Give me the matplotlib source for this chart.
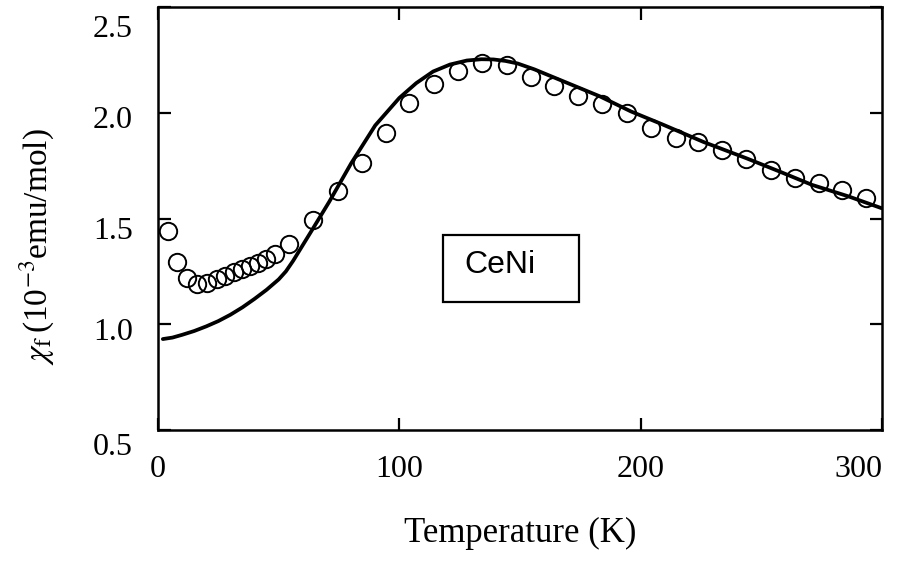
import numpy as np
import matplotlib
matplotlib.use('Agg')
import matplotlib.pyplot as plt
import matplotlib.transforms as mtransforms
from matplotlib.patches import Rectangle

# measured susceptibility (open circles)
temp_data = [4.3, 8.0, 11.9, 16.3, 20.2, 24.3, 27.8, 31.3, 34.7, 38.2, 41.6, 44.8, 48.5, 54.1,
             64.4, 74.4, 84.6, 94.6, 104.0, 114.2, 124.2, 134.4, 144.7, 154.6, 164.0, 174.0,
             184.0, 194.4, 204.4, 214.5, 223.9, 233.9, 243.8, 253.8, 263.9, 274.0, 283.6, 293.5]
chi_data = [1.443, 1.293, 1.219, 1.190, 1.193, 1.214, 1.230, 1.245, 1.261, 1.277, 1.291, 1.309,
            1.332, 1.380, 1.495, 1.629, 1.762, 1.906, 2.048, 2.138, 2.197, 2.236, 2.228, 2.171,
            2.127, 2.077, 2.040, 2.000, 1.930, 1.882, 1.863, 1.825, 1.782, 1.730, 1.693, 1.667,
            1.635, 1.596]

# calculated curve (solid line)
temp_fit = [2, 6, 10, 15, 20, 25, 30, 35, 40, 45, 50, 53, 56, 63, 71, 80, 90, 100, 107, 114,
            121, 128, 134, 139, 144, 149, 156, 163, 173, 183, 196, 209, 226, 244, 258, 271,
            286, 300]
chi_fit = [0.93, 0.937, 0.95, 0.968, 0.99, 1.015, 1.045, 1.08, 1.12, 1.163, 1.212, 1.25, 1.30,
           1.43, 1.58, 1.76, 1.94, 2.07, 2.14, 2.195, 2.228, 2.247, 2.253, 2.252, 2.245, 2.233,
           2.205, 2.172, 2.125, 2.078, 2.006, 1.945, 1.862, 1.784, 1.72, 1.659, 1.605, 1.548]

x_ticks = [0, 100, 200, 300]
y_ticks = [0.5, 1.0, 1.5, 2.0, 2.5]

plt.rcParams['font.family'] = ['Liberation Serif', 'DejaVu Serif']
plt.rcParams['mathtext.fontset'] = 'stix'

fig = plt.figure(figsize=(8.98, 5.61), dpi=100)
ax = fig.add_axes([158/898, 131/561, 724/898, 423/561])

ax.plot(temp_fit, chi_fit, color='black', lw=2.7, zorder=2, solid_capstyle='round')
ax.plot(temp_data, chi_data, 'o', ms=12.5, mfc='none', mec='black', mew=1.4, zorder=3)

ax.set_xlim(0, 300)
ax.set_ylim(0.5, 2.5)
ax.set_xticks(x_ticks)
ax.set_yticks(y_ticks)
ax.set_yticklabels(['%.1f' % v for v in y_ticks])
ax.tick_params(direction='in', length=9, width=1.6, top=True, right=True, labelsize=23)
ax.tick_params(axis='x', pad=18)
ax.tick_params(axis='y', pad=18)
for s in ax.spines.values():
    s.set_linewidth(1.8)

# keep the last x label inside the figure like the original
xlabs = ax.get_xticklabels()
xlabs[-1].set_ha('right')

# y labels sit a little below their ticks in the original
shifts = [-10, -3.5, -6.5, -3, -13.5]
for lab, dy in zip(ax.get_yticklabels(), shifts):
    lab.set_transform(lab.get_transform() +
                      mtransforms.ScaledTranslation(0, dy / 72, fig.dpi_scale_trans))

ax.set_xlabel('Temperature (K)', fontsize=25, labelpad=24)
fig.text(37/898, 1 - 247/561, r'$\chi_{\rm f}\,$(10$^{-3}$emu/mol)', rotation=90,
         ha='center', va='center', fontsize=24)

# label box
ax.add_patch(Rectangle((0.394, 0.302), 0.187, 0.160, transform=ax.transAxes,
                       fill=False, edgecolor='black', lw=1.6))
ax.text(0.472, 0.390, 'CeNi', transform=ax.transAxes, ha='center', va='center',
        fontsize=23, family=['Liberation Sans', 'DejaVu Sans'])

fig.savefig('out.png', dpi=100)
